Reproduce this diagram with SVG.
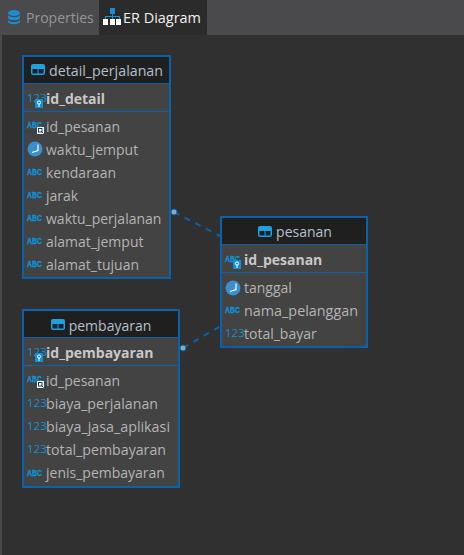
<svg xmlns="http://www.w3.org/2000/svg" width="464" height="555" viewBox="0 0 464 555">
<style>
text{font-family:"Open Sans","Noto Sans","Liberation Sans",sans-serif}
.box{fill:#434343;stroke:#0a62aa;stroke-width:2}
.head{fill:#1f1f1f}
.div{stroke:#0a62aa;stroke-width:1}
.t{font-size:14px;fill:#b4b4b4}
.h{font-size:14px;fill:#b4c0cc;text-anchor:middle}
.pk{font-size:14px;font-weight:700;fill:#c8c8c8}
.n{font-size:11.500px;fill:#0f8fd4}
.a{font-size:9px;font-weight:700;fill:#0f8fd4;stroke:#0f8fd4;stroke-width:.4;font-family:"Liberation Sans",sans-serif}
.conn{stroke:#0a62aa;stroke-width:2;stroke-dasharray:6 6;fill:none}
.dot{fill:#8fa6bb;stroke:#0a62aa;stroke-width:1}
</style>
<defs>
<g id="tbl"><rect x="0" y="0" width="14" height="11" rx="2" fill="#1fa0e0"/><rect x="1.500" y="5" width="5" height="4.500" fill="#123"/><rect x="7.500" y="5" width="5" height="4.500" fill="#123"/></g>
<g id="clock"><circle cx="8" cy="8" r="7.500" fill="#3a8fd0"/><path d="M11 3.500V9.500L5 11.500" stroke="#fff" stroke-width="1.200" fill="none"/></g>
<g id="key"><rect width="8" height="9" fill="#0f8fd4"/><circle cx="4" cy="3.500" r="1.600" fill="none" stroke="#fff"/><path d="M4 5V8" stroke="#fff"/></g>
<g id="fk"><rect width="7" height="7" fill="#fff"/><rect x="1.500" y="1.500" width="3.500" height="3.500" fill="none" stroke="#1f3f5f"/><path d="M4 4L6.500 6.500" stroke="#1f3f5f"/></g>
</defs>
<rect width="464" height="555" fill="#303030"/>
<rect x="0" y="35" width="2" height="520" fill="#4a4a4a"/>
<g id="tabs">
<rect width="464" height="35" fill="#4a4a4c"/>
<rect x="99" y="0" width="108" height="35" fill="#2b2b2b"/>
<g fill="#1a8ed0"><ellipse cx="14" cy="13" rx="6" ry="3"/><path d="M8 15c2 3 10 3 12 0v3c-2 3-10 3-12 0z"/><path d="M8 20c2 3 10 3 12 0v2c-2 3-10 3-12 0z"/></g>
<text x="26" y="23" font-size="14" fill="#959595">Properties</text>
<g fill="#fff"><rect x="103" y="19" width="5" height="6"/><rect x="110" y="19" width="5" height="6"/><rect x="116" y="19" width="5" height="6"/></g>
<g fill="#1a8ed0"><rect x="110" y="8" width="5" height="6"/><path d="M112 14h1v2h7v3h-1v-2h-6v2h-1v-2h-6v2h-1v-3h7z"/></g>
<text x="123" y="23" font-size="14" textLength="78" lengthAdjust="spacingAndGlyphs" fill="#f0f0f0">ER Diagram</text>
</g>
<g id="connectors">
<path class="conn" d="M174 212L220 236"/>
<path class="conn" d="M183 348L221 326"/>
<circle class="dot" cx="174" cy="212" r="3"/>
<circle class="dot" cx="183" cy="348" r="3"/>
</g>
<g id="detail_perjalanan">
<rect class="box" x="23" y="56" width="147" height="222"/>
<rect class="head" x="24" y="57" width="145" height="26"/>
<line class="div" x1="24" y1="83.500" x2="169" y2="83.500"/>
<line class="div" x1="24" y1="111.500" x2="169" y2="111.500"/>
<use href="#tbl" x="31" y="64"/>
<text class="h" x="106" y="76" textLength="114" lengthAdjust="spacingAndGlyphs">detail_perjalanan</text>
<text class="n" x="27" y="102">123</text><use href="#key" x="35" y="99"/>
<text class="pk" x="46" y="104">id_detail</text>
<text class="a" x="27" y="128" textLength="15" lengthAdjust="spacingAndGlyphs">ABC</text><use href="#fk" x="37" y="127"/>
<text class="t" x="46" y="132">id_pesanan</text>
<use href="#clock" x="27" y="141"/>
<text class="t" x="46" y="155">waktu_jemput</text>
<text class="a" x="27" y="175" textLength="15" lengthAdjust="spacingAndGlyphs">ABC</text>
<text class="t" x="46" y="178">kendaraan</text>
<text class="a" x="27" y="198" textLength="15" lengthAdjust="spacingAndGlyphs">ABC</text>
<text class="t" x="46" y="201">jarak</text>
<text class="a" x="27" y="221" textLength="15" lengthAdjust="spacingAndGlyphs">ABC</text>
<text class="t" x="46" y="224">waktu_perjalanan</text>
<text class="a" x="27" y="244" textLength="15" lengthAdjust="spacingAndGlyphs">ABC</text>
<text class="t" x="46" y="247">alamat_jemput</text>
<text class="a" x="27" y="267" textLength="15" lengthAdjust="spacingAndGlyphs">ABC</text>
<text class="t" x="46" y="270">alamat_tujuan</text>
</g>
<g id="pesanan">
<rect class="box" x="221" y="217" width="146" height="130"/>
<rect class="head" x="222" y="218" width="144" height="26"/>
<line class="div" x1="222" y1="244.500" x2="366" y2="244.500"/>
<line class="div" x1="222" y1="272.500" x2="366" y2="272.500"/>
<use href="#tbl" x="258" y="226"/>
<text class="h" x="304" y="237">pesanan</text>
<text class="a" x="225" y="262" textLength="15" lengthAdjust="spacingAndGlyphs">ABC</text><use href="#key" x="233" y="260"/>
<text class="pk" x="244" y="265">id_pesanan</text>
<use href="#clock" x="225" y="280"/>
<text class="t" x="244" y="293">tanggal</text>
<text class="a" x="225" y="313" textLength="15" lengthAdjust="spacingAndGlyphs">ABC</text>
<text class="t" x="244" y="316" textLength="114" lengthAdjust="spacingAndGlyphs">nama_pelanggan</text>
<text class="n" x="225" y="337">123</text>
<text class="t" x="244" y="339">total_bayar</text>
</g>
<g id="pembayaran">
<rect class="box" x="23" y="310" width="156" height="177"/>
<rect class="head" x="24" y="311" width="154" height="26"/>
<line class="div" x1="24" y1="337.500" x2="178" y2="337.500"/>
<line class="div" x1="24" y1="365.500" x2="178" y2="365.500"/>
<use href="#tbl" x="51" y="319"/>
<text class="h" x="110" y="331">pembayaran</text>
<text class="n" x="27" y="356">123</text><use href="#key" x="35" y="353"/>
<text class="pk" x="46" y="358">id_pembayaran</text>
<text class="a" x="27" y="382" textLength="15" lengthAdjust="spacingAndGlyphs">ABC</text><use href="#fk" x="37" y="381"/>
<text class="t" x="46" y="386">id_pesanan</text>
<text class="n" x="27" y="407">123</text>
<text class="t" x="46" y="409" textLength="112" lengthAdjust="spacingAndGlyphs">biaya_perjalanan</text>
<text class="n" x="27" y="430">123</text>
<text class="t" x="46" y="432" textLength="124" lengthAdjust="spacingAndGlyphs">biaya_jasa_aplikasi</text>
<text class="n" x="27" y="453">123</text>
<text class="t" x="46" y="455" textLength="120" lengthAdjust="spacingAndGlyphs">total_pembayaran</text>
<text class="a" x="27" y="476" textLength="15" lengthAdjust="spacingAndGlyphs">ABC</text>
<text class="t" x="46" y="478">jenis_pembayaran</text>
</g>
</svg>
